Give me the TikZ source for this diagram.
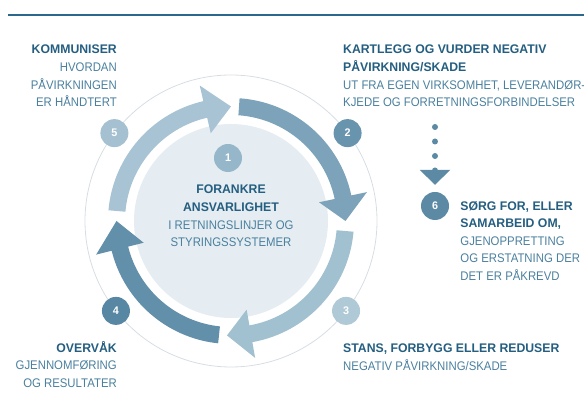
\documentclass[tikz,border=0pt]{standalone}
\usepackage{fontspec}
\setmainfont{Liberation Sans}[FakeStretch=0.91]
\newfontfamily\headfont{Liberation Sans}[FakeStretch=0.98]
\usepackage{tikz}
\usetikzlibrary{arrows.meta,positioning}

\definecolor{headblue}{RGB}{36,94,128}
\definecolor{textblue}{RGB}{74,128,158}
\definecolor{rulecol}{RGB}{44,104,140}
\definecolor{ringgray}{RGB}{214,222,227}
\definecolor{diskfill}{RGB}{229,237,242}
\definecolor{arrowA}{RGB}{168,196,212}
\definecolor{arrowB}{RGB}{124,163,186}
\definecolor{arrowC}{RGB}{162,193,208}
\definecolor{arrowD}{RGB}{98,144,170}
\definecolor{dotone}{RGB}{150,183,201}
\definecolor{dottwo}{RGB}{105,148,174}
\definecolor{dotthree}{RGB}{176,201,214}
\definecolor{dotfour}{RGB}{88,135,163}
\definecolor{dotfive}{RGB}{165,193,209}
\definecolor{dotsix}{RGB}{92,138,165}

\newcommand{\hd}[1]{{\headfont\bfseries\color{headblue}#1}}

\tikzset{
  blocktext/.style={inner sep=0pt, text=textblue, font=\fontsize{12.5}{17.6}\selectfont},
  numdot/.style={circle, minimum size=28pt, inner sep=0pt, text=white,
    font=\headfont\bfseries\fontsize{11}{11}\selectfont},
  dotline/.style={dotsix, line width=6pt, line cap=round, dash pattern=on 0pt off 14.5pt,
    -{Triangle[width=30pt,length=15pt]}}
}

\begin{document}
\begin{tikzpicture}[x=1pt,y=1pt]
\useasboundingbox (0,0) rectangle (584,403);
%top rule
\draw [rulecol, line width=2pt] (8,388) -- (584,388);
%the cycle
\begin{scope}[shift={(231,182)}]
  \fill [diskfill] (0,0) circle (97);
  \draw [ringgray, line width=0.8pt] (0,0) circle (146);
  % arrows: start / head base / tip / colour
  \foreach \s/\b/\t/\c in {175/103/90/arrowA, 86/12/0/arrowB, -5/-80/-92/arrowC, -96/-166/-180/arrowD}{
    \fill [\c] (\s:123) arc[start angle=\s, end angle=\b, radius=123] -- (\b:139) -- (\t:114.5)
      -- (\b:90) -- (\b:106) arc[start angle=\b, end angle=\s, radius=106] -- cycle;
  }
  % step numbers
  \node[numdot, fill=dotone] (one) at (-3,63) {1};
  \node[numdot, fill=dottwo] (two) at (37:146) {2};
  \node[numdot, fill=dotthree] (three) at (-38:146) {3};
  \node[numdot, fill=dotfour] (four) at (-142:146) {4};
  \node[numdot, fill=dotfive] (five) at (143:146) {5};
\end{scope}
\node[numdot, fill=dotsix] (six) at (435,197) {6};
%dotted pointer down to step 6
\coordinate (dtop) at (435,276);
\draw [dotline, shorten >=7pt] (dtop) -- (six);
%texts
\node[blocktext, align=center, anchor=north] (forankre) at (231,218)
  {\hd{FORANKRE}\\\hd{ANSVARLIGHET}\\I RETNINGSLINJER OG\\STYRINGSSYSTEMER};
\node[blocktext, align=left, anchor=north west] (kartlegg) at (343,358)
  {\hd{KARTLEGG OG VURDER NEGATIV}\\\hd{PÅVIRKNING/SKADE}\\UT FRA EGEN VIRKSOMHET, LEVERANDØR-\\KJEDE OG FORRETNINGSFORBINDELSER};
\node[blocktext, align=left, anchor=north west] (stans) at (343,59)
  {\hd{STANS, FORBYGG ELLER REDUSER}\\NEGATIV PÅVIRKNING/SKADE};
\node[blocktext, align=right, anchor=north east] (overvak) at (117,62)
  {\hd{OVERVÅK}\\GJENNOMFØRING\\OG RESULTATER};
\node[blocktext, align=right, anchor=north east] (kommuniser) at (117,358)
  {\hd{KOMMUNISER}\\HVORDAN\\PÅVIRKNINGEN\\ER HÅNDTERT};
\node[blocktext, align=left, anchor=north west] (sorg) at ([xshift=11pt, yshift=5pt]six.east)
  {\hd{SØRG FOR, ELLER}\\\hd{SAMARBEID OM,}\\GJENOPPRETTING\\OG ERSTATNING DER\\DET ER PÅKREVD};
\end{tikzpicture}
\end{document}
